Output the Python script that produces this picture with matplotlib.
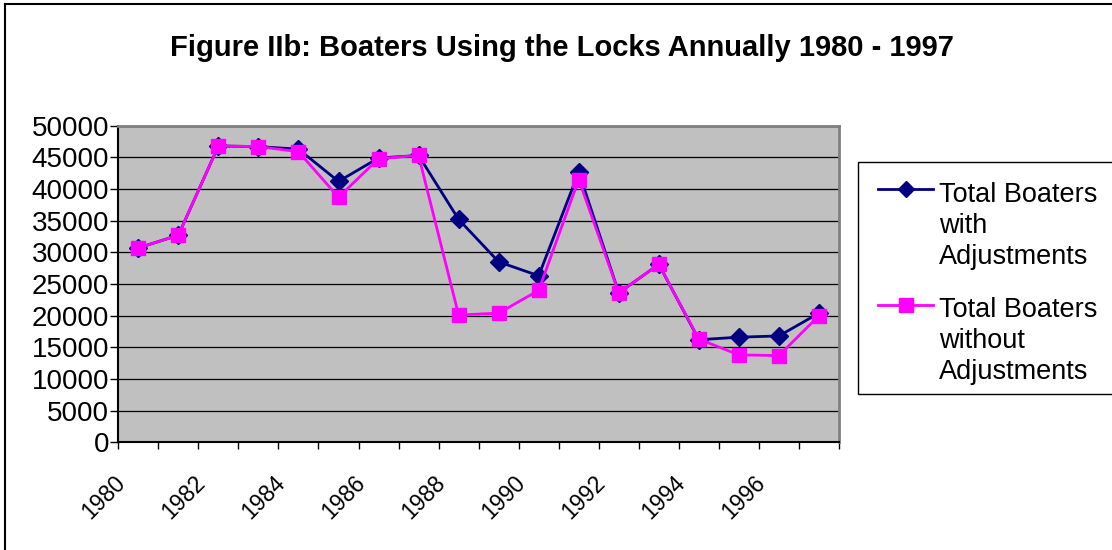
import matplotlib
matplotlib.use('Agg')
import matplotlib.pyplot as plt
from matplotlib.lines import Line2D
from matplotlib.patches import Rectangle
from matplotlib.transforms import ScaledTranslation

years = list(range(1980, 1998))
with_adj = [30700, 32700, 46800, 46700, 46300, 41200, 44900, 45300, 35200,
            28500, 26300, 42700, 23600, 28100, 16200, 16600, 16800, 20400]
without_adj = [30700, 32700, 46800, 46700, 45900, 38700, 44800, 45300, 20100,
               20400, 24000, 41500, 23600, 28100, 16300, 13800, 13700, 20000]
year_labels = ['1980', '1982', '1984', '1986', '1988', '1990', '1992', '1994', '1996']
series_names = [['Total Boaters', 'with', 'Adjustments'],
                ['Total Boaters', 'without', 'Adjustments']]

plt.rcParams['font.family'] = ['Liberation Sans', 'DejaVu Sans']

W, H = 1112, 550
fig = plt.figure(figsize=(W / 100, H / 100), dpi=100)
fig.patch.set_facecolor('white')


def fx(px):
    return px / W


def fy(py):
    # pixel rows are counted from the top
    return 1 - py / H


# outer frame of the chart (only left and top edges are visible)
fig.add_artist(Line2D([fx(5), fx(5)], [0, fy(4)], transform=fig.transFigure,
                      color='black', lw=1.5))
fig.add_artist(Line2D([fx(5), 1], [fy(4), fy(4)], transform=fig.transFigure,
                      color='black', lw=1.5))

ax = fig.add_axes([fx(118.3), 107.7 / H, 720.7 / W, 316.6 / H])
ax.set_facecolor('#c0c0c0')

styles = [dict(color='#000080', marker='D', markersize=9.5),
          dict(color='#ff00ff', marker='s', markersize=10.5)]

x = [i + 0.5 for i in range(len(years))]
for vals, st, z in zip([with_adj, without_adj], styles, [3, 4]):
    ax.plot(x, vals, color=st['color'], lw=2, marker=st['marker'],
            markersize=st['markersize'], markerfacecolor=st['color'],
            markeredgecolor=st['color'], zorder=z)

ax.set_xlim(0, len(years))
ax.set_ylim(0, 50000)
ax.set_yticks(range(0, 50001, 5000))
ax.yaxis.grid(True, color='black', lw=0.9)
ax.set_axisbelow(True)

# category boundaries get ticks, every other category gets a label
ax.set_xticks(range(0, len(years) + 1))
ax.set_xticklabels([])
ax.set_xticks([i + 0.5 for i in range(0, len(years), 2)], minor=True)
ax.set_xticklabels(year_labels, minor=True)
ax.tick_params(axis='x', which='major', length=5, width=1, direction='out')
ax.tick_params(axis='x', which='minor', length=0, pad=27, labelsize=16.5)
ax.tick_params(axis='y', length=5.8, width=1, pad=0.8, labelsize=20)
shift = ScaledTranslation(-17 / 100, 0, fig.dpi_scale_trans)
for lbl in ax.get_xticklabels(minor=True):
    lbl.set_rotation(45)
    lbl.set_ha('right')
    lbl.set_va('center')
    lbl.set_rotation_mode('anchor')
    lbl.set_transform(lbl.get_transform() + shift)

for side in ['left', 'bottom']:
    ax.spines[side].set_color('black')
    ax.spines[side].set_linewidth(1.5)
for side in ['top', 'right']:
    ax.spines[side].set_color('#808080')
    ax.spines[side].set_linewidth(2)

fig.text(fx(562), fy(56), 'Figure IIb: Boaters Using the Locks Annually 1980 - 1997',
         ha='center', va='baseline', fontsize=21, fontweight='bold')

# legend box, drawn by hand so the symbol sits level with the first text line
fig.add_artist(Rectangle((fx(858), fy(394)), fx(300), (394 - 162) / H,
                         transform=fig.transFigure, facecolor='white',
                         edgecolor='black', lw=1))
entry_tops = [202, 317]
handle_rows = [189, 305]
for names, st, top, hy in zip(series_names, styles, entry_tops, handle_rows):
    fig.add_artist(Line2D([fx(878), fx(933)], [fy(hy), fy(hy)],
                          transform=fig.transFigure, color=st['color'], lw=2))
    fig.add_artist(Line2D([fx(905.5)], [fy(hy)], transform=fig.transFigure,
                          marker=st['marker'], markersize=st['markersize'] - 1,
                          color=st['color'], markeredgecolor=st['color'], lw=0))
    for k, line in enumerate(names):
        fig.text(fx(939), fy(top + 31 * k), line, ha='left', va='baseline',
                 fontsize=19.5)

fig.savefig('out.png', dpi=100)
